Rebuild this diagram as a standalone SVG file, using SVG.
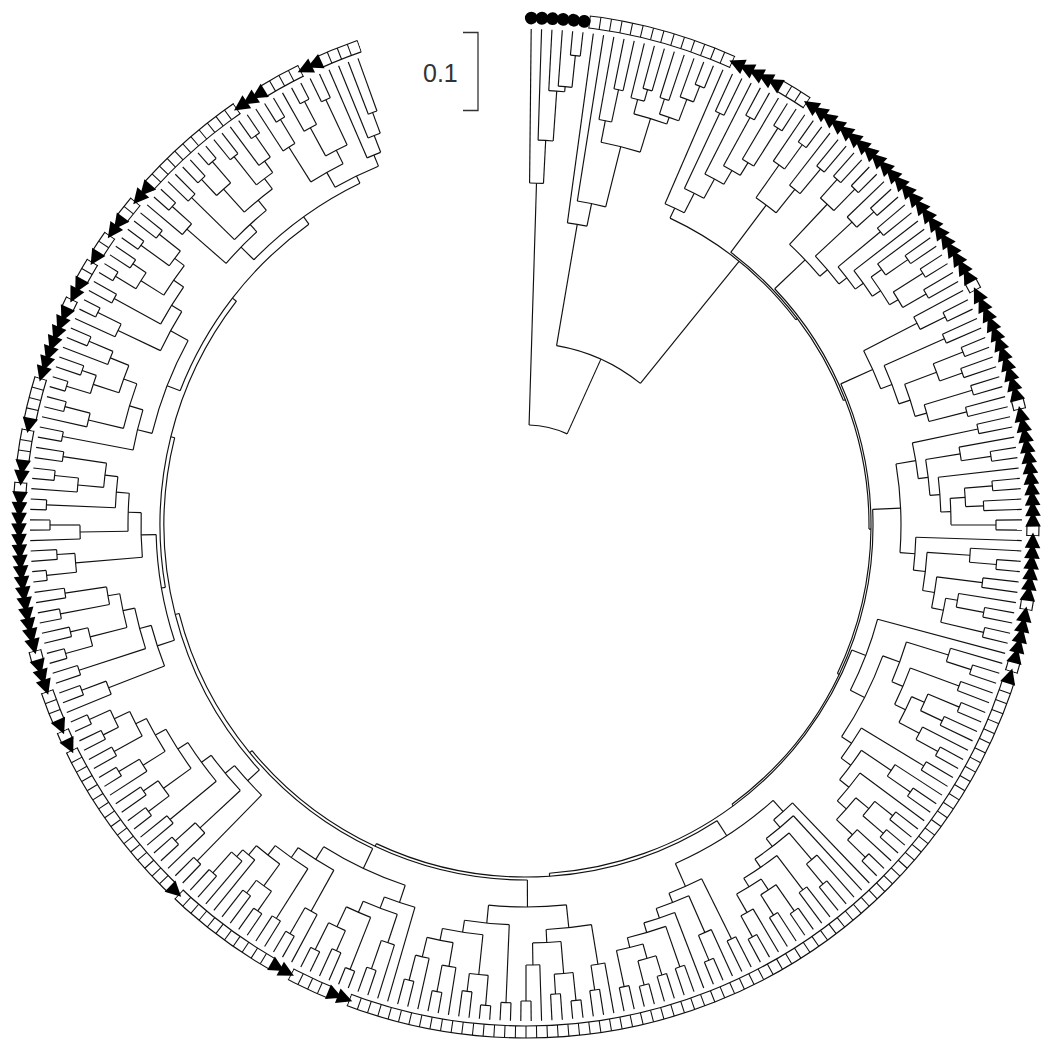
<svg xmlns="http://www.w3.org/2000/svg" xmlns:xlink="http://www.w3.org/1999/xlink" width="1044" height="1045" viewBox="0 0 1044 1045">
<style>
#branches path,#branches circle{fill:none;stroke:#111;stroke-width:1.15}
.rl{fill:none;stroke:#111;stroke-width:1.15}
.tk{fill:none;stroke:#111;stroke-width:12}
.cv{fill:none;stroke:#fff;stroke-width:15}
#tr{fill:#000}
#cm{fill:#000}
.sb{fill:none;stroke:#333;stroke-width:1.3}
.lbl{font-family:"Liberation Sans",Arial,sans-serif;font-size:25px;fill:#333}
</style>
<defs>
<polygon id="tr" points="-8.5,-507 7,-514.8 7,-499.2"/>
<circle id="cm" cx="0" cy="-507" r="6.4"/>
<g id="T2"><use href="#tr"/><use href="#tr" transform="rotate(1.2)"/></g>
<g id="T3"><use href="#T2"/><use href="#tr" transform="rotate(2.4)"/></g>
<g id="T5"><use href="#T3"/><use href="#T2" transform="rotate(3.6)"/></g>
<g id="T10"><use href="#T5"/><use href="#T5" transform="rotate(6)"/></g>
</defs>
<rect width="1044" height="1045" fill="#fff"/>
<g id="branches" transform="translate(526,525)">
<g id="root">
<circle r="100" pathLength="360" stroke-dasharray="22.55 999" transform="rotate(-88.24)"/>
<path d="M0-100V-342" transform="rotate(1.76)"/>
<path d="M0-100V-182" transform="rotate(24.31)"/>
<circle r="182" pathLength="360" stroke-dasharray="29.27 999" transform="rotate(-80.33)"/>
<path d="M0-182V-305" transform="rotate(9.67)"/>
<path d="M0-182V-339" transform="rotate(38.94)"/>
</g>
<g id="clade-A">
<circle r="342" pathLength="360" stroke-dasharray="2.33 999" transform="rotate(-89.4)"/>
<path d="M0-342V-496" transform="rotate(0.6)"/>
<path d="M0-342V-385" transform="rotate(2.93)"/>
<circle r="385" pathLength="360" stroke-dasharray="2.25 999" transform="rotate(-88.2)"/>
<path d="M0-385V-496" transform="rotate(1.8)"/>
<path d="M0-385V-435" transform="rotate(4.05)"/>
<circle r="435" pathLength="360" stroke-dasharray="2.1 999" transform="rotate(-87)"/>
<path d="M0-435V-496" transform="rotate(3)"/>
<path d="M0-435V-440" transform="rotate(5.1)"/>
<circle r="440" pathLength="360" stroke-dasharray="1.8 999" transform="rotate(-85.8)"/>
<path d="M0-440V-496" transform="rotate(4.2)"/>
<path d="M0-440V-472" transform="rotate(6)"/>
<circle r="472" pathLength="360" stroke-dasharray="1.2 999" transform="rotate(-84.6)"/>
<path d="M0-472V-496" transform="rotate(5.4)"/>
<path d="M0-472V-496" transform="rotate(6.6)"/>
</g>
<g id="clade-B">
<circle r="305" pathLength="360" stroke-dasharray="3.73 999" transform="rotate(-82.2)"/>
<path d="M0-305V-496" transform="rotate(7.8)"/>
<path d="M0-305V-328" transform="rotate(11.53)"/>
<circle r="328" pathLength="360" stroke-dasharray="5.06 999" transform="rotate(-81)"/>
<path d="M0-328V-496" transform="rotate(9)"/>
<path d="M0-328V-390" transform="rotate(14.06)"/>
<circle r="390" pathLength="360" stroke-dasharray="5.93 999" transform="rotate(-78.9)"/>
<path d="M0-390V-412" transform="rotate(11.1)"/>
<path d="M0-390V-425" transform="rotate(17.03)"/>
<circle r="412" pathLength="360" stroke-dasharray="1.8 999" transform="rotate(-79.8)"/>
<path d="M0-412V-496" transform="rotate(10.2)"/>
<path d="M0-412V-445" transform="rotate(12)"/>
<circle r="445" pathLength="360" stroke-dasharray="1.2 999" transform="rotate(-78.6)"/>
<path d="M0-445V-496" transform="rotate(11.4)"/>
<path d="M0-445V-496" transform="rotate(12.6)"/>
<circle r="425" pathLength="360" stroke-dasharray="4.65 999" transform="rotate(-75.3)"/>
<path d="M0-425V-440" transform="rotate(14.7)"/>
<path d="M0-425V-432" transform="rotate(19.35)"/>
<circle r="440" pathLength="360" stroke-dasharray="1.8 999" transform="rotate(-76.2)"/>
<path d="M0-440V-496" transform="rotate(13.8)"/>
<path d="M0-440V-452" transform="rotate(15.6)"/>
<circle r="452" pathLength="360" stroke-dasharray="1.2 999" transform="rotate(-75)"/>
<path d="M0-452V-496" transform="rotate(15)"/>
<path d="M0-452V-496" transform="rotate(16.2)"/>
<circle r="432" pathLength="360" stroke-dasharray="2.7 999" transform="rotate(-72)"/>
<path d="M0-432V-448" transform="rotate(18)"/>
<path d="M0-432V-455" transform="rotate(20.7)"/>
<circle r="448" pathLength="360" stroke-dasharray="1.2 999" transform="rotate(-72.6)"/>
<path d="M0-448V-496" transform="rotate(17.4)"/>
<path d="M0-448V-496" transform="rotate(18.6)"/>
<circle r="455" pathLength="360" stroke-dasharray="1.8 999" transform="rotate(-70.2)"/>
<path d="M0-455V-496" transform="rotate(19.8)"/>
<path d="M0-455V-472" transform="rotate(21.6)"/>
<circle r="472" pathLength="360" stroke-dasharray="1.2 999" transform="rotate(-69)"/>
<path d="M0-472V-496" transform="rotate(21)"/>
<path d="M0-472V-496" transform="rotate(22.2)"/>
</g>
<g id="backbone-C">
<circle r="339" pathLength="360" stroke-dasharray="27.6 999" transform="rotate(-64.86)"/>
<path d="M0-339V-350" transform="rotate(25.14)"/>
<path d="M0-339V-341" transform="rotate(52.74)"/>
<circle r="341" pathLength="360" stroke-dasharray="31.68 999" transform="rotate(-53.1)"/>
<path d="M0-341V-400" transform="rotate(36.9)"/>
<path d="M0-341V-343" transform="rotate(68.58)"/>
<circle r="343" pathLength="360" stroke-dasharray="44.21 999" transform="rotate(-43.53)"/>
<path d="M0-343V-385" transform="rotate(46.47)"/>
<path d="M0-343V-345" transform="rotate(90.68)"/>
<circle r="345" pathLength="360" stroke-dasharray="49.65 999" transform="rotate(-24.15)"/>
<path d="M0-345V-380" transform="rotate(65.85)"/>
<path d="M0-345V-347" transform="rotate(115.5)"/>
<circle r="347" pathLength="360" stroke-dasharray="56.16 999" transform="rotate(-2.58)"/>
<path d="M0-347V-375" transform="rotate(87.42)"/>
<path d="M0-347V-349" transform="rotate(143.58)"/>
<circle r="349" pathLength="360" stroke-dasharray="65.15 999" transform="rotate(21)"/>
<path d="M0-349V-364" transform="rotate(111)"/>
<path d="M0-349V-352" transform="rotate(176.15)"/>
<circle r="352" pathLength="360" stroke-dasharray="58.01 999" transform="rotate(57.14)"/>
<path d="M0-352V-370" transform="rotate(147.14)"/>
<path d="M0-352V-355" transform="rotate(205.15)"/>
<circle r="355" pathLength="360" stroke-dasharray="50.74 999" transform="rotate(89.78)"/>
<path d="M0-355V-382" transform="rotate(179.78)"/>
<path d="M0-355V-358" transform="rotate(230.52)"/>
<circle r="358" pathLength="360" stroke-dasharray="50.34 999" transform="rotate(115.35)"/>
<path d="M0-358V-380" transform="rotate(205.35)"/>
<path d="M0-358V-362" transform="rotate(255.69)"/>
<circle r="362" pathLength="360" stroke-dasharray="56.52 999" transform="rotate(137.43)"/>
<path d="M0-362V-378" transform="rotate(227.43)"/>
<path d="M0-362V-366" transform="rotate(283.95)"/>
<circle r="366" pathLength="360" stroke-dasharray="47.51 999" transform="rotate(170.19)"/>
<path d="M0-366V-370" transform="rotate(260.19)"/>
<path d="M0-366V-371" transform="rotate(307.7)"/>
<circle r="371" pathLength="360" stroke-dasharray="32.97 999" transform="rotate(201.21)"/>
<path d="M0-371V-385" transform="rotate(291.21)"/>
<path d="M0-371V-380" transform="rotate(324.18)"/>
</g>
<g id="clade-K1">
<circle r="350" pathLength="360" stroke-dasharray="3.49 999" transform="rotate(-66.6)"/>
<path d="M0-350V-496" transform="rotate(23.4)"/>
<path d="M0-350V-372" transform="rotate(26.89)"/>
<circle r="372" pathLength="360" stroke-dasharray="3.38 999" transform="rotate(-64.8)"/>
<path d="M0-372V-455" transform="rotate(25.2)"/>
<path d="M0-372V-394" transform="rotate(28.58)"/>
<circle r="455" pathLength="360" stroke-dasharray="1.2 999" transform="rotate(-65.4)"/>
<path d="M0-455V-496" transform="rotate(24.6)"/>
<path d="M0-455V-496" transform="rotate(25.8)"/>
<circle r="394" pathLength="360" stroke-dasharray="3.15 999" transform="rotate(-63)"/>
<path d="M0-394V-496" transform="rotate(27)"/>
<path d="M0-394V-410" transform="rotate(30.15)"/>
<circle r="410" pathLength="360" stroke-dasharray="2.7 999" transform="rotate(-61.2)"/>
<path d="M0-410V-465" transform="rotate(28.8)"/>
<path d="M0-410V-425" transform="rotate(31.5)"/>
<circle r="465" pathLength="360" stroke-dasharray="1.2 999" transform="rotate(-61.8)"/>
<path d="M0-465V-496" transform="rotate(28.2)"/>
<path d="M0-465V-496" transform="rotate(29.4)"/>
<circle r="425" pathLength="360" stroke-dasharray="1.8 999" transform="rotate(-59.4)"/>
<path d="M0-425V-496" transform="rotate(30.6)"/>
<path d="M0-425V-470" transform="rotate(32.4)"/>
<circle r="470" pathLength="360" stroke-dasharray="1.2 999" transform="rotate(-58.2)"/>
<path d="M0-470V-496" transform="rotate(31.8)"/>
<path d="M0-470V-496" transform="rotate(33)"/>
</g>
<g id="clade-K2">
<circle r="400" pathLength="360" stroke-dasharray="3.6 999" transform="rotate(-54.9)"/>
<path d="M0-400V-440" transform="rotate(35.1)"/>
<path d="M0-400V-430" transform="rotate(38.7)"/>
<circle r="440" pathLength="360" stroke-dasharray="1.8 999" transform="rotate(-55.8)"/>
<path d="M0-440V-496" transform="rotate(34.2)"/>
<path d="M0-440V-470" transform="rotate(36)"/>
<circle r="470" pathLength="360" stroke-dasharray="1.2 999" transform="rotate(-54.6)"/>
<path d="M0-470V-496" transform="rotate(35.4)"/>
<path d="M0-470V-496" transform="rotate(36.6)"/>
<circle r="430" pathLength="360" stroke-dasharray="1.8 999" transform="rotate(-52.2)"/>
<path d="M0-430V-496" transform="rotate(37.8)"/>
<path d="M0-430V-462" transform="rotate(39.6)"/>
<circle r="462" pathLength="360" stroke-dasharray="1.2 999" transform="rotate(-51)"/>
<path d="M0-462V-496" transform="rotate(39)"/>
<path d="M0-462V-496" transform="rotate(40.2)"/>
</g>
<g id="clade-K3">
<circle r="385" pathLength="360" stroke-dasharray="6.54 999" transform="rotate(-46.8)"/>
<path d="M0-385V-440" transform="rotate(43.2)"/>
<path d="M0-385V-395" transform="rotate(49.74)"/>
<circle r="440" pathLength="360" stroke-dasharray="2.4 999" transform="rotate(-48)"/>
<path d="M0-440V-465" transform="rotate(42)"/>
<path d="M0-440V-470" transform="rotate(44.4)"/>
<circle r="465" pathLength="360" stroke-dasharray="1.2 999" transform="rotate(-48.6)"/>
<path d="M0-465V-496" transform="rotate(41.4)"/>
<path d="M0-465V-496" transform="rotate(42.6)"/>
<circle r="470" pathLength="360" stroke-dasharray="1.2 999" transform="rotate(-46.2)"/>
<path d="M0-470V-496" transform="rotate(43.8)"/>
<path d="M0-470V-496" transform="rotate(45)"/>
<circle r="395" pathLength="360" stroke-dasharray="5.29 999" transform="rotate(-42.9)"/>
<path d="M0-395V-445" transform="rotate(47.1)"/>
<path d="M0-395V-405" transform="rotate(52.39)"/>
<circle r="445" pathLength="360" stroke-dasharray="1.8 999" transform="rotate(-43.8)"/>
<path d="M0-445V-496" transform="rotate(46.2)"/>
<path d="M0-445V-468" transform="rotate(48)"/>
<circle r="468" pathLength="360" stroke-dasharray="1.2 999" transform="rotate(-42.6)"/>
<path d="M0-468V-496" transform="rotate(47.4)"/>
<path d="M0-468V-496" transform="rotate(48.6)"/>
<circle r="405" pathLength="360" stroke-dasharray="3.98 999" transform="rotate(-39.6)"/>
<path d="M0-405V-460" transform="rotate(50.4)"/>
<path d="M0-405V-415" transform="rotate(54.38)"/>
<circle r="460" pathLength="360" stroke-dasharray="1.2 999" transform="rotate(-40.2)"/>
<path d="M0-460V-496" transform="rotate(49.8)"/>
<path d="M0-460V-496" transform="rotate(51)"/>
<circle r="415" pathLength="360" stroke-dasharray="4.35 999" transform="rotate(-37.8)"/>
<path d="M0-415V-496" transform="rotate(52.2)"/>
<path d="M0-415V-425" transform="rotate(56.55)"/>
<circle r="425" pathLength="360" stroke-dasharray="4.5 999" transform="rotate(-35.7)"/>
<path d="M0-425V-438" transform="rotate(54.3)"/>
<path d="M0-425V-435" transform="rotate(58.8)"/>
<circle r="438" pathLength="360" stroke-dasharray="1.8 999" transform="rotate(-36.6)"/>
<path d="M0-438V-496" transform="rotate(53.4)"/>
<path d="M0-438V-465" transform="rotate(55.2)"/>
<circle r="465" pathLength="360" stroke-dasharray="1.2 999" transform="rotate(-35.4)"/>
<path d="M0-465V-496" transform="rotate(54.6)"/>
<path d="M0-465V-496" transform="rotate(55.8)"/>
<circle r="435" pathLength="360" stroke-dasharray="2.4 999" transform="rotate(-32.4)"/>
<path d="M0-435V-470" transform="rotate(57.6)"/>
<path d="M0-435V-462" transform="rotate(60)"/>
<circle r="470" pathLength="360" stroke-dasharray="1.2 999" transform="rotate(-33)"/>
<path d="M0-470V-496" transform="rotate(57)"/>
<path d="M0-470V-496" transform="rotate(58.2)"/>
<circle r="462" pathLength="360" stroke-dasharray="1.2 999" transform="rotate(-30.6)"/>
<path d="M0-462V-496" transform="rotate(59.4)"/>
<path d="M0-462V-496" transform="rotate(60.6)"/>
</g>
<g id="clade-K4">
<circle r="380" pathLength="360" stroke-dasharray="6.3 999" transform="rotate(-27.3)"/>
<path d="M0-380V-440" transform="rotate(62.7)"/>
<path d="M0-380V-392" transform="rotate(69)"/>
<circle r="440" pathLength="360" stroke-dasharray="1.8 999" transform="rotate(-28.2)"/>
<path d="M0-440V-496" transform="rotate(61.8)"/>
<path d="M0-440V-468" transform="rotate(63.6)"/>
<circle r="468" pathLength="360" stroke-dasharray="1.2 999" transform="rotate(-27)"/>
<path d="M0-468V-496" transform="rotate(63)"/>
<path d="M0-468V-496" transform="rotate(64.2)"/>
<circle r="392" pathLength="360" stroke-dasharray="6 999" transform="rotate(-24)"/>
<path d="M0-392V-458" transform="rotate(66)"/>
<path d="M0-392V-404" transform="rotate(72)"/>
<circle r="458" pathLength="360" stroke-dasharray="1.2 999" transform="rotate(-24.6)"/>
<path d="M0-458V-496" transform="rotate(65.4)"/>
<path d="M0-458V-496" transform="rotate(66.6)"/>
<circle r="404" pathLength="360" stroke-dasharray="4.8 999" transform="rotate(-20.4)"/>
<path d="M0-404V-438" transform="rotate(69.6)"/>
<path d="M0-404V-416" transform="rotate(74.4)"/>
<circle r="438" pathLength="360" stroke-dasharray="2.4 999" transform="rotate(-21.6)"/>
<path d="M0-438V-470" transform="rotate(68.4)"/>
<path d="M0-438V-462" transform="rotate(70.8)"/>
<circle r="470" pathLength="360" stroke-dasharray="1.2 999" transform="rotate(-22.2)"/>
<path d="M0-470V-496" transform="rotate(67.8)"/>
<path d="M0-470V-496" transform="rotate(69)"/>
<circle r="462" pathLength="360" stroke-dasharray="1.2 999" transform="rotate(-19.8)"/>
<path d="M0-462V-496" transform="rotate(70.2)"/>
<path d="M0-462V-496" transform="rotate(71.4)"/>
<circle r="416" pathLength="360" stroke-dasharray="2.4 999" transform="rotate(-16.8)"/>
<path d="M0-416V-466" transform="rotate(73.2)"/>
<path d="M0-416V-455" transform="rotate(75.6)"/>
<circle r="466" pathLength="360" stroke-dasharray="1.2 999" transform="rotate(-17.4)"/>
<path d="M0-466V-496" transform="rotate(72.6)"/>
<path d="M0-466V-496" transform="rotate(73.8)"/>
<circle r="455" pathLength="360" stroke-dasharray="1.2 999" transform="rotate(-15)"/>
<path d="M0-455V-496" transform="rotate(75)"/>
<path d="M0-455V-496" transform="rotate(76.2)"/>
</g>
<g id="clade-K5">
<circle r="375" pathLength="360" stroke-dasharray="13.6 999" transform="rotate(-9.38)"/>
<path d="M0-375V-395" transform="rotate(80.63)"/>
<path d="M0-375V-390" transform="rotate(94.22)"/>
<circle r="395" pathLength="360" stroke-dasharray="5.25 999" transform="rotate(-12)"/>
<path d="M0-395V-462" transform="rotate(78)"/>
<path d="M0-395V-405" transform="rotate(83.25)"/>
<circle r="462" pathLength="360" stroke-dasharray="1.2 999" transform="rotate(-12.6)"/>
<path d="M0-462V-496" transform="rotate(77.4)"/>
<path d="M0-462V-496" transform="rotate(78.6)"/>
<circle r="405" pathLength="360" stroke-dasharray="5.1 999" transform="rotate(-9.3)"/>
<path d="M0-405V-440" transform="rotate(80.7)"/>
<path d="M0-405V-415" transform="rotate(85.8)"/>
<circle r="440" pathLength="360" stroke-dasharray="1.8 999" transform="rotate(-10.2)"/>
<path d="M0-440V-496" transform="rotate(79.8)"/>
<path d="M0-440V-470" transform="rotate(81.6)"/>
<circle r="470" pathLength="360" stroke-dasharray="1.2 999" transform="rotate(-9)"/>
<path d="M0-470V-496" transform="rotate(81)"/>
<path d="M0-470V-496" transform="rotate(82.2)"/>
<circle r="415" pathLength="360" stroke-dasharray="4.8 999" transform="rotate(-6.6)"/>
<path d="M0-415V-496" transform="rotate(83.4)"/>
<path d="M0-415V-425" transform="rotate(88.2)"/>
<circle r="425" pathLength="360" stroke-dasharray="3.6 999" transform="rotate(-3.6)"/>
<path d="M0-425V-440" transform="rotate(86.4)"/>
<path d="M0-425V-470" transform="rotate(90)"/>
<circle r="440" pathLength="360" stroke-dasharray="2.4 999" transform="rotate(-4.8)"/>
<path d="M0-440V-468" transform="rotate(85.2)"/>
<path d="M0-440V-458" transform="rotate(87.6)"/>
<circle r="468" pathLength="360" stroke-dasharray="1.2 999" transform="rotate(-5.4)"/>
<path d="M0-468V-496" transform="rotate(84.6)"/>
<path d="M0-468V-496" transform="rotate(85.8)"/>
<circle r="458" pathLength="360" stroke-dasharray="1.2 999" transform="rotate(-3)"/>
<path d="M0-458V-496" transform="rotate(87)"/>
<path d="M0-458V-496" transform="rotate(88.2)"/>
<circle r="470" pathLength="360" stroke-dasharray="1.2 999" transform="rotate(-0.6)"/>
<path d="M0-470V-496" transform="rotate(89.4)"/>
<path d="M0-470V-496" transform="rotate(90.6)"/>
<circle r="390" pathLength="360" stroke-dasharray="4.84 999" transform="rotate(1.8)"/>
<path d="M0-390V-496" transform="rotate(91.8)"/>
<path d="M0-390V-402" transform="rotate(96.64)"/>
<circle r="402" pathLength="360" stroke-dasharray="5.48 999" transform="rotate(3.9)"/>
<path d="M0-402V-445" transform="rotate(93.9)"/>
<path d="M0-402V-414" transform="rotate(99.38)"/>
<circle r="445" pathLength="360" stroke-dasharray="1.8 999" transform="rotate(3)"/>
<path d="M0-445V-496" transform="rotate(93)"/>
<path d="M0-445V-472" transform="rotate(94.8)"/>
<circle r="472" pathLength="360" stroke-dasharray="1.2 999" transform="rotate(4.2)"/>
<path d="M0-472V-496" transform="rotate(94.2)"/>
<path d="M0-472V-496" transform="rotate(95.4)"/>
<circle r="414" pathLength="360" stroke-dasharray="4.35 999" transform="rotate(7.2)"/>
<path d="M0-414V-460" transform="rotate(97.2)"/>
<path d="M0-414V-426" transform="rotate(101.55)"/>
<circle r="460" pathLength="360" stroke-dasharray="1.2 999" transform="rotate(6.6)"/>
<path d="M0-460V-496" transform="rotate(96.6)"/>
<path d="M0-460V-496" transform="rotate(97.8)"/>
<circle r="426" pathLength="360" stroke-dasharray="3.3 999" transform="rotate(9.9)"/>
<path d="M0-426V-438" transform="rotate(99.9)"/>
<path d="M0-426V-470" transform="rotate(103.2)"/>
<circle r="438" pathLength="360" stroke-dasharray="1.8 999" transform="rotate(9)"/>
<path d="M0-438V-496" transform="rotate(99)"/>
<path d="M0-438V-466" transform="rotate(100.8)"/>
<circle r="466" pathLength="360" stroke-dasharray="1.2 999" transform="rotate(10.2)"/>
<path d="M0-466V-496" transform="rotate(100.2)"/>
<path d="M0-466V-496" transform="rotate(101.4)"/>
<circle r="470" pathLength="360" stroke-dasharray="1.2 999" transform="rotate(12.6)"/>
<path d="M0-470V-496" transform="rotate(102.6)"/>
<path d="M0-470V-496" transform="rotate(103.8)"/>
</g>
<g id="clade-K6">
<circle r="364" pathLength="360" stroke-dasharray="12 999" transform="rotate(15)"/>
<path d="M0-364V-496" transform="rotate(105)"/>
<path d="M0-364V-380" transform="rotate(117)"/>
<circle r="380" pathLength="360" stroke-dasharray="13.71 999" transform="rotate(20.14)"/>
<path d="M0-380V-398" transform="rotate(110.14)"/>
<path d="M0-380V-392" transform="rotate(123.85)"/>
<circle r="398" pathLength="360" stroke-dasharray="6.08 999" transform="rotate(17.1)"/>
<path d="M0-398V-442" transform="rotate(107.1)"/>
<path d="M0-398V-410" transform="rotate(113.18)"/>
<circle r="442" pathLength="360" stroke-dasharray="1.8 999" transform="rotate(16.2)"/>
<path d="M0-442V-496" transform="rotate(106.2)"/>
<path d="M0-442V-468" transform="rotate(108)"/>
<circle r="468" pathLength="360" stroke-dasharray="1.2 999" transform="rotate(17.4)"/>
<path d="M0-468V-496" transform="rotate(107.4)"/>
<path d="M0-468V-496" transform="rotate(108.6)"/>
<circle r="410" pathLength="360" stroke-dasharray="5.55 999" transform="rotate(20.4)"/>
<path d="M0-410V-462" transform="rotate(110.4)"/>
<path d="M0-410V-422" transform="rotate(115.95)"/>
<circle r="462" pathLength="360" stroke-dasharray="1.2 999" transform="rotate(19.8)"/>
<path d="M0-462V-496" transform="rotate(109.8)"/>
<path d="M0-462V-496" transform="rotate(111)"/>
<circle r="422" pathLength="360" stroke-dasharray="3.9 999" transform="rotate(24)"/>
<path d="M0-422V-436" transform="rotate(114)"/>
<path d="M0-422V-445" transform="rotate(117.9)"/>
<circle r="436" pathLength="360" stroke-dasharray="2.4 999" transform="rotate(22.8)"/>
<path d="M0-436V-470" transform="rotate(112.8)"/>
<path d="M0-436V-460" transform="rotate(115.2)"/>
<circle r="470" pathLength="360" stroke-dasharray="1.2 999" transform="rotate(22.2)"/>
<path d="M0-470V-496" transform="rotate(112.2)"/>
<path d="M0-470V-496" transform="rotate(113.4)"/>
<circle r="460" pathLength="360" stroke-dasharray="1.2 999" transform="rotate(24.6)"/>
<path d="M0-460V-496" transform="rotate(114.6)"/>
<path d="M0-460V-496" transform="rotate(115.8)"/>
<circle r="445" pathLength="360" stroke-dasharray="1.8 999" transform="rotate(27)"/>
<path d="M0-445V-496" transform="rotate(117)"/>
<path d="M0-445V-470" transform="rotate(118.8)"/>
<circle r="470" pathLength="360" stroke-dasharray="1.2 999" transform="rotate(28.2)"/>
<path d="M0-470V-496" transform="rotate(118.2)"/>
<path d="M0-470V-496" transform="rotate(119.4)"/>
<circle r="392" pathLength="360" stroke-dasharray="5.29 999" transform="rotate(31.2)"/>
<path d="M0-392V-465" transform="rotate(121.2)"/>
<path d="M0-392V-404" transform="rotate(126.49)"/>
<circle r="465" pathLength="360" stroke-dasharray="1.2 999" transform="rotate(30.6)"/>
<path d="M0-465V-496" transform="rotate(120.6)"/>
<path d="M0-465V-496" transform="rotate(121.8)"/>
<circle r="404" pathLength="360" stroke-dasharray="5.18 999" transform="rotate(33.9)"/>
<path d="M0-404V-440" transform="rotate(123.9)"/>
<path d="M0-404V-416" transform="rotate(129.08)"/>
<circle r="440" pathLength="360" stroke-dasharray="1.8 999" transform="rotate(33)"/>
<path d="M0-440V-496" transform="rotate(123)"/>
<path d="M0-440V-468" transform="rotate(124.8)"/>
<circle r="468" pathLength="360" stroke-dasharray="1.2 999" transform="rotate(34.2)"/>
<path d="M0-468V-496" transform="rotate(124.2)"/>
<path d="M0-468V-496" transform="rotate(125.4)"/>
<circle r="416" pathLength="360" stroke-dasharray="4.95 999" transform="rotate(36.6)"/>
<path d="M0-416V-496" transform="rotate(126.6)"/>
<path d="M0-416V-428" transform="rotate(131.55)"/>
<circle r="428" pathLength="360" stroke-dasharray="3.9 999" transform="rotate(39.6)"/>
<path d="M0-428V-445" transform="rotate(129.6)"/>
<path d="M0-428V-450" transform="rotate(133.5)"/>
<circle r="445" pathLength="360" stroke-dasharray="2.4 999" transform="rotate(38.4)"/>
<path d="M0-445V-468" transform="rotate(128.4)"/>
<path d="M0-445V-472" transform="rotate(130.8)"/>
<circle r="468" pathLength="360" stroke-dasharray="1.2 999" transform="rotate(37.8)"/>
<path d="M0-468V-496" transform="rotate(127.8)"/>
<path d="M0-468V-496" transform="rotate(129)"/>
<circle r="472" pathLength="360" stroke-dasharray="1.2 999" transform="rotate(40.2)"/>
<path d="M0-472V-496" transform="rotate(130.2)"/>
<path d="M0-472V-496" transform="rotate(131.4)"/>
<circle r="450" pathLength="360" stroke-dasharray="1.8 999" transform="rotate(42.6)"/>
<path d="M0-450V-496" transform="rotate(132.6)"/>
<path d="M0-450V-475" transform="rotate(134.4)"/>
<circle r="475" pathLength="360" stroke-dasharray="1.2 999" transform="rotate(43.8)"/>
<path d="M0-475V-496" transform="rotate(133.8)"/>
<path d="M0-475V-496" transform="rotate(135)"/>
</g>
<g id="clade-K7">
<circle r="370" pathLength="360" stroke-dasharray="18.1 999" transform="rotate(48.09)"/>
<path d="M0-370V-385" transform="rotate(138.09)"/>
<path d="M0-370V-395" transform="rotate(156.19)"/>
<circle r="385" pathLength="360" stroke-dasharray="3.77 999" transform="rotate(46.2)"/>
<path d="M0-385V-496" transform="rotate(136.2)"/>
<path d="M0-385V-395" transform="rotate(139.97)"/>
<circle r="395" pathLength="360" stroke-dasharray="5.14 999" transform="rotate(47.4)"/>
<path d="M0-395V-496" transform="rotate(137.4)"/>
<path d="M0-395V-405" transform="rotate(142.54)"/>
<circle r="405" pathLength="360" stroke-dasharray="6.08 999" transform="rotate(49.5)"/>
<path d="M0-405V-440" transform="rotate(139.5)"/>
<path d="M0-405V-415" transform="rotate(145.58)"/>
<circle r="440" pathLength="360" stroke-dasharray="1.8 999" transform="rotate(48.6)"/>
<path d="M0-440V-496" transform="rotate(138.6)"/>
<path d="M0-440V-466" transform="rotate(140.4)"/>
<circle r="466" pathLength="360" stroke-dasharray="1.2 999" transform="rotate(49.8)"/>
<path d="M0-466V-496" transform="rotate(139.8)"/>
<path d="M0-466V-496" transform="rotate(141)"/>
<circle r="415" pathLength="360" stroke-dasharray="5.55 999" transform="rotate(52.8)"/>
<path d="M0-415V-458" transform="rotate(142.8)"/>
<path d="M0-415V-425" transform="rotate(148.35)"/>
<circle r="458" pathLength="360" stroke-dasharray="1.2 999" transform="rotate(52.2)"/>
<path d="M0-458V-496" transform="rotate(142.2)"/>
<path d="M0-458V-496" transform="rotate(143.4)"/>
<circle r="425" pathLength="360" stroke-dasharray="3.9 999" transform="rotate(56.4)"/>
<path d="M0-425V-438" transform="rotate(146.4)"/>
<path d="M0-425V-446" transform="rotate(150.3)"/>
<circle r="438" pathLength="360" stroke-dasharray="2.4 999" transform="rotate(55.2)"/>
<path d="M0-438V-470" transform="rotate(145.2)"/>
<path d="M0-438V-462" transform="rotate(147.6)"/>
<circle r="470" pathLength="360" stroke-dasharray="1.2 999" transform="rotate(54.6)"/>
<path d="M0-470V-496" transform="rotate(144.6)"/>
<path d="M0-470V-496" transform="rotate(145.8)"/>
<circle r="462" pathLength="360" stroke-dasharray="1.2 999" transform="rotate(57)"/>
<path d="M0-462V-496" transform="rotate(147)"/>
<path d="M0-462V-496" transform="rotate(148.2)"/>
<circle r="446" pathLength="360" stroke-dasharray="1.8 999" transform="rotate(59.4)"/>
<path d="M0-446V-496" transform="rotate(149.4)"/>
<path d="M0-446V-470" transform="rotate(151.2)"/>
<circle r="470" pathLength="360" stroke-dasharray="1.2 999" transform="rotate(60.6)"/>
<path d="M0-470V-496" transform="rotate(150.6)"/>
<path d="M0-470V-496" transform="rotate(151.8)"/>
<circle r="395" pathLength="360" stroke-dasharray="5.18 999" transform="rotate(63.6)"/>
<path d="M0-395V-462" transform="rotate(153.6)"/>
<path d="M0-395V-405" transform="rotate(158.78)"/>
<circle r="462" pathLength="360" stroke-dasharray="1.2 999" transform="rotate(63)"/>
<path d="M0-462V-496" transform="rotate(153)"/>
<path d="M0-462V-496" transform="rotate(154.2)"/>
<circle r="405" pathLength="360" stroke-dasharray="4.95 999" transform="rotate(66.3)"/>
<path d="M0-405V-445" transform="rotate(156.3)"/>
<path d="M0-405V-415" transform="rotate(161.25)"/>
<circle r="445" pathLength="360" stroke-dasharray="1.8 999" transform="rotate(65.4)"/>
<path d="M0-445V-496" transform="rotate(155.4)"/>
<path d="M0-445V-472" transform="rotate(157.2)"/>
<circle r="472" pathLength="360" stroke-dasharray="1.2 999" transform="rotate(66.6)"/>
<path d="M0-472V-496" transform="rotate(156.6)"/>
<path d="M0-472V-496" transform="rotate(157.8)"/>
<circle r="415" pathLength="360" stroke-dasharray="4.5 999" transform="rotate(69)"/>
<path d="M0-415V-496" transform="rotate(159)"/>
<path d="M0-415V-425" transform="rotate(163.5)"/>
<circle r="425" pathLength="360" stroke-dasharray="5.4 999" transform="rotate(70.8)"/>
<path d="M0-425V-468" transform="rotate(160.8)"/>
<path d="M0-425V-435" transform="rotate(166.2)"/>
<circle r="468" pathLength="360" stroke-dasharray="1.2 999" transform="rotate(70.2)"/>
<path d="M0-468V-496" transform="rotate(160.2)"/>
<path d="M0-468V-496" transform="rotate(161.4)"/>
<circle r="435" pathLength="360" stroke-dasharray="3.6 999" transform="rotate(74.4)"/>
<path d="M0-435V-450" transform="rotate(164.4)"/>
<path d="M0-435V-472" transform="rotate(168)"/>
<circle r="450" pathLength="360" stroke-dasharray="2.4 999" transform="rotate(73.2)"/>
<path d="M0-450V-470" transform="rotate(163.2)"/>
<path d="M0-450V-475" transform="rotate(165.6)"/>
<circle r="470" pathLength="360" stroke-dasharray="1.2 999" transform="rotate(72.6)"/>
<path d="M0-470V-496" transform="rotate(162.6)"/>
<path d="M0-470V-496" transform="rotate(163.8)"/>
<circle r="475" pathLength="360" stroke-dasharray="1.2 999" transform="rotate(75)"/>
<path d="M0-475V-496" transform="rotate(165)"/>
<path d="M0-475V-496" transform="rotate(166.2)"/>
<circle r="472" pathLength="360" stroke-dasharray="1.2 999" transform="rotate(77.4)"/>
<path d="M0-472V-496" transform="rotate(167.4)"/>
<path d="M0-472V-496" transform="rotate(168.6)"/>
</g>
<g id="clade-K8">
<circle r="382" pathLength="360" stroke-dasharray="11.7 999" transform="rotate(83.93)"/>
<path d="M0-382V-405" transform="rotate(173.93)"/>
<path d="M0-382V-400" transform="rotate(185.63)"/>
<circle r="405" pathLength="360" stroke-dasharray="6.45 999" transform="rotate(80.7)"/>
<path d="M0-405V-445" transform="rotate(170.7)"/>
<path d="M0-405V-418" transform="rotate(177.15)"/>
<circle r="445" pathLength="360" stroke-dasharray="1.8 999" transform="rotate(79.8)"/>
<path d="M0-445V-496" transform="rotate(169.8)"/>
<path d="M0-445V-470" transform="rotate(171.6)"/>
<circle r="470" pathLength="360" stroke-dasharray="1.2 999" transform="rotate(81)"/>
<path d="M0-470V-496" transform="rotate(171)"/>
<path d="M0-470V-496" transform="rotate(172.2)"/>
<circle r="418" pathLength="360" stroke-dasharray="3.9 999" transform="rotate(85.2)"/>
<path d="M0-418V-450" transform="rotate(175.2)"/>
<path d="M0-418V-440" transform="rotate(179.1)"/>
<circle r="450" pathLength="360" stroke-dasharray="2.4 999" transform="rotate(84)"/>
<path d="M0-450V-478" transform="rotate(174)"/>
<path d="M0-450V-470" transform="rotate(176.4)"/>
<circle r="478" pathLength="360" stroke-dasharray="1.2 999" transform="rotate(83.4)"/>
<path d="M0-478V-496" transform="rotate(173.4)"/>
<path d="M0-478V-496" transform="rotate(174.6)"/>
<circle r="470" pathLength="360" stroke-dasharray="1.2 999" transform="rotate(85.8)"/>
<path d="M0-470V-496" transform="rotate(175.8)"/>
<path d="M0-470V-496" transform="rotate(177)"/>
<circle r="440" pathLength="360" stroke-dasharray="1.8 999" transform="rotate(88.2)"/>
<path d="M0-440V-496" transform="rotate(178.2)"/>
<path d="M0-440V-476" transform="rotate(180)"/>
<circle r="476" pathLength="360" stroke-dasharray="1.2 999" transform="rotate(89.4)"/>
<path d="M0-476V-496" transform="rotate(179.4)"/>
<path d="M0-476V-496" transform="rotate(180.6)"/>
<circle r="400" pathLength="360" stroke-dasharray="6.45 999" transform="rotate(92.4)"/>
<path d="M0-400V-478" transform="rotate(182.4)"/>
<path d="M0-400V-412" transform="rotate(188.85)"/>
<circle r="478" pathLength="360" stroke-dasharray="1.2 999" transform="rotate(91.8)"/>
<path d="M0-478V-496" transform="rotate(181.8)"/>
<path d="M0-478V-496" transform="rotate(183)"/>
<circle r="412" pathLength="360" stroke-dasharray="5.7 999" transform="rotate(96)"/>
<path d="M0-412V-452" transform="rotate(186)"/>
<path d="M0-412V-424" transform="rotate(191.7)"/>
<circle r="452" pathLength="360" stroke-dasharray="2.4 999" transform="rotate(94.8)"/>
<path d="M0-452V-482" transform="rotate(184.8)"/>
<path d="M0-452V-470" transform="rotate(187.2)"/>
<circle r="482" pathLength="360" stroke-dasharray="1.2 999" transform="rotate(94.2)"/>
<path d="M0-482V-496" transform="rotate(184.2)"/>
<path d="M0-482V-496" transform="rotate(185.4)"/>
<circle r="470" pathLength="360" stroke-dasharray="1.2 999" transform="rotate(96.6)"/>
<path d="M0-470V-496" transform="rotate(186.6)"/>
<path d="M0-470V-496" transform="rotate(187.8)"/>
<circle r="424" pathLength="360" stroke-dasharray="3.6 999" transform="rotate(99.9)"/>
<path d="M0-424V-448" transform="rotate(189.9)"/>
<path d="M0-424V-444" transform="rotate(193.5)"/>
<circle r="448" pathLength="360" stroke-dasharray="1.8 999" transform="rotate(99)"/>
<path d="M0-448V-496" transform="rotate(189)"/>
<path d="M0-448V-475" transform="rotate(190.8)"/>
<circle r="475" pathLength="360" stroke-dasharray="1.2 999" transform="rotate(100.2)"/>
<path d="M0-475V-496" transform="rotate(190.2)"/>
<path d="M0-475V-496" transform="rotate(191.4)"/>
<circle r="444" pathLength="360" stroke-dasharray="1.8 999" transform="rotate(102.6)"/>
<path d="M0-444V-496" transform="rotate(192.6)"/>
<path d="M0-444V-470" transform="rotate(194.4)"/>
<circle r="470" pathLength="360" stroke-dasharray="1.2 999" transform="rotate(103.8)"/>
<path d="M0-470V-496" transform="rotate(193.8)"/>
<path d="M0-470V-496" transform="rotate(195)"/>
</g>
<g id="clade-K9">
<circle r="380" pathLength="360" stroke-dasharray="13.63 999" transform="rotate(108.53)"/>
<path d="M0-380V-398" transform="rotate(198.53)"/>
<path d="M0-380V-395" transform="rotate(212.16)"/>
<circle r="398" pathLength="360" stroke-dasharray="4.65 999" transform="rotate(106.2)"/>
<path d="M0-398V-496" transform="rotate(196.2)"/>
<path d="M0-398V-410" transform="rotate(200.85)"/>
<circle r="410" pathLength="360" stroke-dasharray="5.1 999" transform="rotate(108.3)"/>
<path d="M0-410V-440" transform="rotate(198.3)"/>
<path d="M0-410V-422" transform="rotate(203.4)"/>
<circle r="440" pathLength="360" stroke-dasharray="1.8 999" transform="rotate(107.4)"/>
<path d="M0-440V-496" transform="rotate(197.4)"/>
<path d="M0-440V-470" transform="rotate(199.2)"/>
<circle r="470" pathLength="360" stroke-dasharray="1.2 999" transform="rotate(108.6)"/>
<path d="M0-470V-496" transform="rotate(198.6)"/>
<path d="M0-470V-496" transform="rotate(199.8)"/>
<circle r="422" pathLength="360" stroke-dasharray="3.6 999" transform="rotate(111.6)"/>
<path d="M0-422V-478" transform="rotate(201.6)"/>
<path d="M0-422V-444" transform="rotate(205.2)"/>
<circle r="478" pathLength="360" stroke-dasharray="1.2 999" transform="rotate(111)"/>
<path d="M0-478V-496" transform="rotate(201)"/>
<path d="M0-478V-496" transform="rotate(202.2)"/>
<circle r="444" pathLength="360" stroke-dasharray="2.4 999" transform="rotate(114)"/>
<path d="M0-444V-466" transform="rotate(204)"/>
<path d="M0-444V-474" transform="rotate(206.4)"/>
<circle r="466" pathLength="360" stroke-dasharray="1.2 999" transform="rotate(113.4)"/>
<path d="M0-466V-496" transform="rotate(203.4)"/>
<path d="M0-466V-496" transform="rotate(204.6)"/>
<circle r="474" pathLength="360" stroke-dasharray="1.2 999" transform="rotate(115.8)"/>
<path d="M0-474V-496" transform="rotate(205.8)"/>
<path d="M0-474V-496" transform="rotate(207)"/>
<circle r="395" pathLength="360" stroke-dasharray="6.12 999" transform="rotate(119.1)"/>
<path d="M0-395V-442" transform="rotate(209.1)"/>
<path d="M0-395V-407" transform="rotate(215.22)"/>
<circle r="442" pathLength="360" stroke-dasharray="1.8 999" transform="rotate(118.2)"/>
<path d="M0-442V-496" transform="rotate(208.2)"/>
<path d="M0-442V-472" transform="rotate(210)"/>
<circle r="472" pathLength="360" stroke-dasharray="1.2 999" transform="rotate(119.4)"/>
<path d="M0-472V-496" transform="rotate(209.4)"/>
<path d="M0-472V-496" transform="rotate(210.6)"/>
<circle r="407" pathLength="360" stroke-dasharray="5.63 999" transform="rotate(122.4)"/>
<path d="M0-407V-466" transform="rotate(212.4)"/>
<path d="M0-407V-419" transform="rotate(218.03)"/>
<circle r="466" pathLength="360" stroke-dasharray="1.2 999" transform="rotate(121.8)"/>
<path d="M0-466V-496" transform="rotate(211.8)"/>
<path d="M0-466V-496" transform="rotate(213)"/>
<circle r="419" pathLength="360" stroke-dasharray="4.05 999" transform="rotate(126)"/>
<path d="M0-419V-446" transform="rotate(216)"/>
<path d="M0-419V-431" transform="rotate(220.05)"/>
<circle r="446" pathLength="360" stroke-dasharray="2.4 999" transform="rotate(124.8)"/>
<path d="M0-446V-470" transform="rotate(214.8)"/>
<path d="M0-446V-462" transform="rotate(217.2)"/>
<circle r="470" pathLength="360" stroke-dasharray="1.2 999" transform="rotate(124.2)"/>
<path d="M0-470V-496" transform="rotate(214.2)"/>
<path d="M0-470V-496" transform="rotate(215.4)"/>
<circle r="462" pathLength="360" stroke-dasharray="1.2 999" transform="rotate(126.6)"/>
<path d="M0-462V-496" transform="rotate(216.6)"/>
<path d="M0-462V-496" transform="rotate(217.8)"/>
<circle r="431" pathLength="360" stroke-dasharray="2.1 999" transform="rotate(129)"/>
<path d="M0-431V-496" transform="rotate(219)"/>
<path d="M0-431V-440" transform="rotate(221.1)"/>
<circle r="440" pathLength="360" stroke-dasharray="1.8 999" transform="rotate(130.2)"/>
<path d="M0-440V-496" transform="rotate(220.2)"/>
<path d="M0-440V-468" transform="rotate(222)"/>
<circle r="468" pathLength="360" stroke-dasharray="1.2 999" transform="rotate(131.4)"/>
<path d="M0-468V-496" transform="rotate(221.4)"/>
<path d="M0-468V-496" transform="rotate(222.6)"/>
</g>
<g id="clade-K10">
<circle r="378" pathLength="360" stroke-dasharray="6.06 999" transform="rotate(134.4)"/>
<path d="M0-378V-470" transform="rotate(224.4)"/>
<path d="M0-378V-390" transform="rotate(230.46)"/>
<circle r="470" pathLength="360" stroke-dasharray="1.2 999" transform="rotate(133.8)"/>
<path d="M0-470V-496" transform="rotate(223.8)"/>
<path d="M0-470V-496" transform="rotate(225)"/>
<circle r="390" pathLength="360" stroke-dasharray="6.72 999" transform="rotate(137.1)"/>
<path d="M0-390V-445" transform="rotate(227.1)"/>
<path d="M0-390V-402" transform="rotate(233.82)"/>
<circle r="445" pathLength="360" stroke-dasharray="1.8 999" transform="rotate(136.2)"/>
<path d="M0-445V-496" transform="rotate(226.2)"/>
<path d="M0-445V-472" transform="rotate(228)"/>
<circle r="472" pathLength="360" stroke-dasharray="1.2 999" transform="rotate(137.4)"/>
<path d="M0-472V-496" transform="rotate(227.4)"/>
<path d="M0-472V-496" transform="rotate(228.6)"/>
<circle r="402" pathLength="360" stroke-dasharray="6.83 999" transform="rotate(140.4)"/>
<path d="M0-402V-462" transform="rotate(230.4)"/>
<path d="M0-402V-414" transform="rotate(237.23)"/>
<circle r="462" pathLength="360" stroke-dasharray="1.2 999" transform="rotate(139.8)"/>
<path d="M0-462V-496" transform="rotate(229.8)"/>
<path d="M0-462V-496" transform="rotate(231)"/>
<circle r="414" pathLength="360" stroke-dasharray="6.45 999" transform="rotate(144)"/>
<path d="M0-414V-448" transform="rotate(234)"/>
<path d="M0-414V-426" transform="rotate(240.45)"/>
<circle r="448" pathLength="360" stroke-dasharray="2.4 999" transform="rotate(142.8)"/>
<path d="M0-448V-474" transform="rotate(232.8)"/>
<path d="M0-448V-466" transform="rotate(235.2)"/>
<circle r="474" pathLength="360" stroke-dasharray="1.2 999" transform="rotate(142.2)"/>
<path d="M0-474V-496" transform="rotate(232.2)"/>
<path d="M0-474V-496" transform="rotate(233.4)"/>
<circle r="466" pathLength="360" stroke-dasharray="1.2 999" transform="rotate(144.6)"/>
<path d="M0-466V-496" transform="rotate(234.6)"/>
<path d="M0-466V-496" transform="rotate(235.8)"/>
<circle r="426" pathLength="360" stroke-dasharray="5.1 999" transform="rotate(147.9)"/>
<path d="M0-426V-452" transform="rotate(237.9)"/>
<path d="M0-426V-438" transform="rotate(243)"/>
<circle r="452" pathLength="360" stroke-dasharray="1.8 999" transform="rotate(147)"/>
<path d="M0-452V-496" transform="rotate(237)"/>
<path d="M0-452V-476" transform="rotate(238.8)"/>
<circle r="476" pathLength="360" stroke-dasharray="1.2 999" transform="rotate(148.2)"/>
<path d="M0-476V-496" transform="rotate(238.2)"/>
<path d="M0-476V-496" transform="rotate(239.4)"/>
<circle r="438" pathLength="360" stroke-dasharray="3.6 999" transform="rotate(151.2)"/>
<path d="M0-438V-470" transform="rotate(241.2)"/>
<path d="M0-438V-455" transform="rotate(244.8)"/>
<circle r="470" pathLength="360" stroke-dasharray="1.2 999" transform="rotate(150.6)"/>
<path d="M0-470V-496" transform="rotate(240.6)"/>
<path d="M0-470V-496" transform="rotate(241.8)"/>
<circle r="455" pathLength="360" stroke-dasharray="2.4 999" transform="rotate(153.6)"/>
<path d="M0-455V-472" transform="rotate(243.6)"/>
<path d="M0-455V-478" transform="rotate(246)"/>
<circle r="472" pathLength="360" stroke-dasharray="1.2 999" transform="rotate(153)"/>
<path d="M0-472V-496" transform="rotate(243)"/>
<path d="M0-472V-496" transform="rotate(244.2)"/>
<circle r="478" pathLength="360" stroke-dasharray="1.2 999" transform="rotate(155.4)"/>
<path d="M0-478V-496" transform="rotate(245.4)"/>
<path d="M0-478V-496" transform="rotate(246.6)"/>
</g>
<g id="clade-K11">
<circle r="370" pathLength="360" stroke-dasharray="16.67 999" transform="rotate(161.85)"/>
<path d="M0-370V-388" transform="rotate(251.85)"/>
<path d="M0-370V-385" transform="rotate(268.52)"/>
<circle r="388" pathLength="360" stroke-dasharray="6.3 999" transform="rotate(158.7)"/>
<path d="M0-388V-448" transform="rotate(248.7)"/>
<path d="M0-388V-400" transform="rotate(255)"/>
<circle r="448" pathLength="360" stroke-dasharray="1.8 999" transform="rotate(157.8)"/>
<path d="M0-448V-496" transform="rotate(247.8)"/>
<path d="M0-448V-474" transform="rotate(249.6)"/>
<circle r="474" pathLength="360" stroke-dasharray="1.2 999" transform="rotate(159)"/>
<path d="M0-474V-496" transform="rotate(249)"/>
<path d="M0-474V-496" transform="rotate(250.2)"/>
<circle r="400" pathLength="360" stroke-dasharray="6 999" transform="rotate(162)"/>
<path d="M0-400V-470" transform="rotate(252)"/>
<path d="M0-400V-412" transform="rotate(258)"/>
<circle r="470" pathLength="360" stroke-dasharray="1.2 999" transform="rotate(161.4)"/>
<path d="M0-470V-496" transform="rotate(251.4)"/>
<path d="M0-470V-496" transform="rotate(252.6)"/>
<circle r="412" pathLength="360" stroke-dasharray="4.8 999" transform="rotate(165.6)"/>
<path d="M0-412V-450" transform="rotate(255.6)"/>
<path d="M0-412V-424" transform="rotate(260.4)"/>
<circle r="450" pathLength="360" stroke-dasharray="2.4 999" transform="rotate(164.4)"/>
<path d="M0-450V-478" transform="rotate(254.4)"/>
<path d="M0-450V-468" transform="rotate(256.8)"/>
<circle r="478" pathLength="360" stroke-dasharray="1.2 999" transform="rotate(163.8)"/>
<path d="M0-478V-496" transform="rotate(253.8)"/>
<path d="M0-478V-496" transform="rotate(255)"/>
<circle r="468" pathLength="360" stroke-dasharray="1.2 999" transform="rotate(166.2)"/>
<path d="M0-468V-496" transform="rotate(256.2)"/>
<path d="M0-468V-496" transform="rotate(257.4)"/>
<circle r="424" pathLength="360" stroke-dasharray="2.4 999" transform="rotate(169.2)"/>
<path d="M0-424V-474" transform="rotate(259.2)"/>
<path d="M0-424V-466" transform="rotate(261.6)"/>
<circle r="474" pathLength="360" stroke-dasharray="1.2 999" transform="rotate(168.6)"/>
<path d="M0-474V-496" transform="rotate(258.6)"/>
<path d="M0-474V-496" transform="rotate(259.8)"/>
<circle r="466" pathLength="360" stroke-dasharray="1.2 999" transform="rotate(171)"/>
<path d="M0-466V-496" transform="rotate(261)"/>
<path d="M0-466V-496" transform="rotate(262.2)"/>
<circle r="385" pathLength="360" stroke-dasharray="6.64 999" transform="rotate(175.2)"/>
<path d="M0-385V-452" transform="rotate(265.2)"/>
<path d="M0-385V-398" transform="rotate(271.84)"/>
<circle r="452" pathLength="360" stroke-dasharray="2.4 999" transform="rotate(174)"/>
<path d="M0-452V-482" transform="rotate(264)"/>
<path d="M0-452V-470" transform="rotate(266.4)"/>
<circle r="482" pathLength="360" stroke-dasharray="1.2 999" transform="rotate(173.4)"/>
<path d="M0-482V-496" transform="rotate(263.4)"/>
<path d="M0-482V-496" transform="rotate(264.6)"/>
<circle r="470" pathLength="360" stroke-dasharray="1.2 999" transform="rotate(175.8)"/>
<path d="M0-470V-496" transform="rotate(265.8)"/>
<path d="M0-470V-496" transform="rotate(267)"/>
<circle r="398" pathLength="360" stroke-dasharray="5.48 999" transform="rotate(179.1)"/>
<path d="M0-398V-446" transform="rotate(269.1)"/>
<path d="M0-398V-411" transform="rotate(274.58)"/>
<circle r="446" pathLength="360" stroke-dasharray="1.8 999" transform="rotate(178.2)"/>
<path d="M0-446V-496" transform="rotate(268.2)"/>
<path d="M0-446V-476" transform="rotate(270)"/>
<circle r="476" pathLength="360" stroke-dasharray="1.2 999" transform="rotate(179.4)"/>
<path d="M0-476V-496" transform="rotate(269.4)"/>
<path d="M0-476V-496" transform="rotate(270.6)"/>
<circle r="411" pathLength="360" stroke-dasharray="4.35 999" transform="rotate(182.4)"/>
<path d="M0-411V-480" transform="rotate(272.4)"/>
<path d="M0-411V-424" transform="rotate(276.75)"/>
<circle r="480" pathLength="360" stroke-dasharray="1.2 999" transform="rotate(181.8)"/>
<path d="M0-480V-496" transform="rotate(271.8)"/>
<path d="M0-480V-496" transform="rotate(273)"/>
<circle r="424" pathLength="360" stroke-dasharray="3.3 999" transform="rotate(185.1)"/>
<path d="M0-424V-450" transform="rotate(275.1)"/>
<path d="M0-424V-468" transform="rotate(278.4)"/>
<circle r="450" pathLength="360" stroke-dasharray="1.8 999" transform="rotate(184.2)"/>
<path d="M0-450V-496" transform="rotate(274.2)"/>
<path d="M0-450V-474" transform="rotate(276)"/>
<circle r="474" pathLength="360" stroke-dasharray="1.2 999" transform="rotate(185.4)"/>
<path d="M0-474V-496" transform="rotate(275.4)"/>
<path d="M0-474V-496" transform="rotate(276.6)"/>
<circle r="468" pathLength="360" stroke-dasharray="1.2 999" transform="rotate(187.8)"/>
<path d="M0-468V-496" transform="rotate(277.8)"/>
<path d="M0-468V-496" transform="rotate(279)"/>
</g>
<g id="clade-K12">
<circle r="385" pathLength="360" stroke-dasharray="14.88 999" transform="rotate(193.77)"/>
<path d="M0-385V-400" transform="rotate(283.77)"/>
<path d="M0-385V-405" transform="rotate(298.65)"/>
<circle r="400" pathLength="360" stroke-dasharray="5.93 999" transform="rotate(190.8)"/>
<path d="M0-400V-472" transform="rotate(280.8)"/>
<path d="M0-400V-414" transform="rotate(286.73)"/>
<circle r="472" pathLength="360" stroke-dasharray="1.2 999" transform="rotate(190.2)"/>
<path d="M0-472V-496" transform="rotate(280.2)"/>
<path d="M0-472V-496" transform="rotate(281.4)"/>
<circle r="414" pathLength="360" stroke-dasharray="6.45 999" transform="rotate(193.5)"/>
<path d="M0-414V-450" transform="rotate(283.5)"/>
<path d="M0-414V-428" transform="rotate(289.95)"/>
<circle r="450" pathLength="360" stroke-dasharray="1.8 999" transform="rotate(192.6)"/>
<path d="M0-450V-496" transform="rotate(282.6)"/>
<path d="M0-450V-476" transform="rotate(284.4)"/>
<circle r="476" pathLength="360" stroke-dasharray="1.2 999" transform="rotate(193.8)"/>
<path d="M0-476V-496" transform="rotate(283.8)"/>
<path d="M0-476V-496" transform="rotate(285)"/>
<circle r="428" pathLength="360" stroke-dasharray="3.9 999" transform="rotate(198)"/>
<path d="M0-428V-455" transform="rotate(288)"/>
<path d="M0-428V-448" transform="rotate(291.9)"/>
<circle r="455" pathLength="360" stroke-dasharray="2.4 999" transform="rotate(196.8)"/>
<path d="M0-455V-480" transform="rotate(286.8)"/>
<path d="M0-455V-470" transform="rotate(289.2)"/>
<circle r="480" pathLength="360" stroke-dasharray="1.2 999" transform="rotate(196.2)"/>
<path d="M0-480V-496" transform="rotate(286.2)"/>
<path d="M0-480V-496" transform="rotate(287.4)"/>
<circle r="470" pathLength="360" stroke-dasharray="1.2 999" transform="rotate(198.6)"/>
<path d="M0-470V-496" transform="rotate(288.6)"/>
<path d="M0-470V-496" transform="rotate(289.8)"/>
<circle r="448" pathLength="360" stroke-dasharray="1.8 999" transform="rotate(201)"/>
<path d="M0-448V-496" transform="rotate(291)"/>
<path d="M0-448V-474" transform="rotate(292.8)"/>
<circle r="474" pathLength="360" stroke-dasharray="1.2 999" transform="rotate(202.2)"/>
<path d="M0-474V-496" transform="rotate(292.2)"/>
<path d="M0-474V-496" transform="rotate(293.4)"/>
<circle r="405" pathLength="360" stroke-dasharray="6.3 999" transform="rotate(205.5)"/>
<path d="M0-405V-452" transform="rotate(295.5)"/>
<path d="M0-405V-417" transform="rotate(301.8)"/>
<circle r="452" pathLength="360" stroke-dasharray="1.8 999" transform="rotate(204.6)"/>
<path d="M0-452V-496" transform="rotate(294.6)"/>
<path d="M0-452V-478" transform="rotate(296.4)"/>
<circle r="478" pathLength="360" stroke-dasharray="1.2 999" transform="rotate(205.8)"/>
<path d="M0-478V-496" transform="rotate(295.8)"/>
<path d="M0-478V-496" transform="rotate(297)"/>
<circle r="417" pathLength="360" stroke-dasharray="6 999" transform="rotate(208.8)"/>
<path d="M0-417V-470" transform="rotate(298.8)"/>
<path d="M0-417V-429" transform="rotate(304.8)"/>
<circle r="470" pathLength="360" stroke-dasharray="1.2 999" transform="rotate(208.2)"/>
<path d="M0-470V-496" transform="rotate(298.2)"/>
<path d="M0-470V-496" transform="rotate(299.4)"/>
<circle r="429" pathLength="360" stroke-dasharray="4.8 999" transform="rotate(212.4)"/>
<path d="M0-429V-456" transform="rotate(302.4)"/>
<path d="M0-429V-441" transform="rotate(307.2)"/>
<circle r="456" pathLength="360" stroke-dasharray="2.4 999" transform="rotate(211.2)"/>
<path d="M0-456V-480" transform="rotate(301.2)"/>
<path d="M0-456V-472" transform="rotate(303.6)"/>
<circle r="480" pathLength="360" stroke-dasharray="1.2 999" transform="rotate(210.6)"/>
<path d="M0-480V-496" transform="rotate(300.6)"/>
<path d="M0-480V-496" transform="rotate(301.8)"/>
<circle r="472" pathLength="360" stroke-dasharray="1.2 999" transform="rotate(213)"/>
<path d="M0-472V-496" transform="rotate(303)"/>
<path d="M0-472V-496" transform="rotate(304.2)"/>
<circle r="441" pathLength="360" stroke-dasharray="2.4 999" transform="rotate(216)"/>
<path d="M0-441V-476" transform="rotate(306)"/>
<path d="M0-441V-468" transform="rotate(308.4)"/>
<circle r="476" pathLength="360" stroke-dasharray="1.2 999" transform="rotate(215.4)"/>
<path d="M0-476V-496" transform="rotate(305.4)"/>
<path d="M0-476V-496" transform="rotate(306.6)"/>
<circle r="468" pathLength="360" stroke-dasharray="1.2 999" transform="rotate(217.8)"/>
<path d="M0-468V-496" transform="rotate(307.8)"/>
<path d="M0-468V-496" transform="rotate(309)"/>
</g>
<g id="clade-K13">
<circle r="380" pathLength="360" stroke-dasharray="19.82 999" transform="rotate(224.27)"/>
<path d="M0-380V-398" transform="rotate(314.27)"/>
<path d="M0-380V-388" transform="rotate(334.09)"/>
<circle r="398" pathLength="360" stroke-dasharray="6.34 999" transform="rotate(221.1)"/>
<path d="M0-398V-450" transform="rotate(311.1)"/>
<path d="M0-398V-408" transform="rotate(317.44)"/>
<circle r="450" pathLength="360" stroke-dasharray="1.8 999" transform="rotate(220.2)"/>
<path d="M0-450V-496" transform="rotate(310.2)"/>
<path d="M0-450V-476" transform="rotate(312)"/>
<circle r="476" pathLength="360" stroke-dasharray="1.2 999" transform="rotate(221.4)"/>
<path d="M0-476V-496" transform="rotate(311.4)"/>
<path d="M0-476V-496" transform="rotate(312.6)"/>
<circle r="408" pathLength="360" stroke-dasharray="6.08 999" transform="rotate(224.4)"/>
<path d="M0-408V-468" transform="rotate(314.4)"/>
<path d="M0-408V-421" transform="rotate(320.48)"/>
<circle r="468" pathLength="360" stroke-dasharray="1.2 999" transform="rotate(223.8)"/>
<path d="M0-468V-496" transform="rotate(313.8)"/>
<path d="M0-468V-496" transform="rotate(315)"/>
<circle r="421" pathLength="360" stroke-dasharray="4.95 999" transform="rotate(228)"/>
<path d="M0-421V-452" transform="rotate(318)"/>
<path d="M0-421V-434" transform="rotate(322.95)"/>
<circle r="452" pathLength="360" stroke-dasharray="2.4 999" transform="rotate(226.8)"/>
<path d="M0-452V-474" transform="rotate(316.8)"/>
<path d="M0-452V-480" transform="rotate(319.2)"/>
<circle r="474" pathLength="360" stroke-dasharray="1.2 999" transform="rotate(226.2)"/>
<path d="M0-474V-496" transform="rotate(316.2)"/>
<path d="M0-474V-496" transform="rotate(317.4)"/>
<circle r="480" pathLength="360" stroke-dasharray="1.2 999" transform="rotate(228.6)"/>
<path d="M0-480V-496" transform="rotate(318.6)"/>
<path d="M0-480V-496" transform="rotate(319.8)"/>
<circle r="434" pathLength="360" stroke-dasharray="2.7 999" transform="rotate(231.6)"/>
<path d="M0-434V-470" transform="rotate(321.6)"/>
<path d="M0-434V-448" transform="rotate(324.3)"/>
<circle r="470" pathLength="360" stroke-dasharray="1.2 999" transform="rotate(231)"/>
<path d="M0-470V-496" transform="rotate(321)"/>
<path d="M0-470V-496" transform="rotate(322.2)"/>
<circle r="448" pathLength="360" stroke-dasharray="1.8 999" transform="rotate(233.4)"/>
<path d="M0-448V-496" transform="rotate(323.4)"/>
<path d="M0-448V-474" transform="rotate(325.2)"/>
<circle r="474" pathLength="360" stroke-dasharray="1.2 999" transform="rotate(234.6)"/>
<path d="M0-474V-496" transform="rotate(324.6)"/>
<path d="M0-474V-496" transform="rotate(325.8)"/>
<circle r="388" pathLength="360" stroke-dasharray="7.12 999" transform="rotate(240.53)"/>
<path d="M0-388V-405" transform="rotate(330.53)"/>
<path d="M0-388V-400" transform="rotate(337.65)"/>
<circle r="405" pathLength="360" stroke-dasharray="5.25 999" transform="rotate(237.9)"/>
<path d="M0-405V-446" transform="rotate(327.9)"/>
<path d="M0-405V-420" transform="rotate(333.15)"/>
<circle r="446" pathLength="360" stroke-dasharray="1.8 999" transform="rotate(237)"/>
<path d="M0-446V-496" transform="rotate(327)"/>
<path d="M0-446V-474" transform="rotate(328.8)"/>
<circle r="474" pathLength="360" stroke-dasharray="1.2 999" transform="rotate(238.2)"/>
<path d="M0-474V-496" transform="rotate(328.2)"/>
<path d="M0-474V-496" transform="rotate(329.4)"/>
<circle r="420" pathLength="360" stroke-dasharray="3.3 999" transform="rotate(241.5)"/>
<path d="M0-420V-452" transform="rotate(331.5)"/>
<path d="M0-420V-470" transform="rotate(334.8)"/>
<circle r="452" pathLength="360" stroke-dasharray="1.8 999" transform="rotate(240.6)"/>
<path d="M0-452V-496" transform="rotate(330.6)"/>
<path d="M0-452V-478" transform="rotate(332.4)"/>
<circle r="478" pathLength="360" stroke-dasharray="1.2 999" transform="rotate(241.8)"/>
<path d="M0-478V-496" transform="rotate(331.8)"/>
<path d="M0-478V-496" transform="rotate(333)"/>
<circle r="470" pathLength="360" stroke-dasharray="1.2 999" transform="rotate(244.2)"/>
<path d="M0-470V-496" transform="rotate(334.2)"/>
<path d="M0-470V-496" transform="rotate(335.4)"/>
<circle r="400" pathLength="360" stroke-dasharray="2.1 999" transform="rotate(246.6)"/>
<path d="M0-400V-496" transform="rotate(336.6)"/>
<path d="M0-400V-418" transform="rotate(338.7)"/>
<circle r="418" pathLength="360" stroke-dasharray="1.8 999" transform="rotate(247.8)"/>
<path d="M0-418V-496" transform="rotate(337.8)"/>
<path d="M0-418V-440" transform="rotate(339.6)"/>
<circle r="440" pathLength="360" stroke-dasharray="1.2 999" transform="rotate(249)"/>
<path d="M0-440V-496" transform="rotate(339)"/>
<path d="M0-440V-496" transform="rotate(340.2)"/>
</g>
</g>
<g id="tip-markers" transform="translate(526,525)">
<circle class="rl" r="513" pathLength="360" stroke-dasharray="340.8 999" transform="rotate(-90)"/>
<circle class="rl" r="501" pathLength="360" stroke-dasharray="340.8 999" transform="rotate(-90)"/>
<circle class="tk" r="507" pathLength="360" stroke-dasharray="0.12 1.08" transform="rotate(-90.06)"/>
<g id="marker-covers">
<circle class="cv" r="507" pathLength="360" stroke-dasharray="7.64 999" transform="rotate(-90.5)"/>
<circle class="cv" r="507" pathLength="360" stroke-dasharray="5.88 999" transform="rotate(-65.94)"/>
<circle class="cv" r="507" pathLength="360" stroke-dasharray="27.48 999" transform="rotate(-56.34)"/>
<circle class="cv" r="507" pathLength="360" stroke-dasharray="13.08 999" transform="rotate(-27.54)"/>
<circle class="cv" r="507" pathLength="360" stroke-dasharray="13.08 999" transform="rotate(-13.14)"/>
<circle class="cv" r="507" pathLength="360" stroke-dasharray="7.08 999" transform="rotate(1.26)"/>
<circle class="cv" r="507" pathLength="360" stroke-dasharray="5.88 999" transform="rotate(9.66)"/>
<circle class="cv" r="507" pathLength="360" stroke-dasharray="1.08 999" transform="rotate(16.86)"/>
<circle class="cv" r="507" pathLength="360" stroke-dasharray="2.28 999" transform="rotate(110.46)"/>
<circle class="cv" r="507" pathLength="360" stroke-dasharray="2.28 999" transform="rotate(117.66)"/>
<circle class="cv" r="507" pathLength="360" stroke-dasharray="1.08 999" transform="rotate(133.26)"/>
<circle class="cv" r="507" pathLength="360" stroke-dasharray="1.08 999" transform="rotate(153.66)"/>
<circle class="cv" r="507" pathLength="360" stroke-dasharray="1.08 999" transform="rotate(156.06)"/>
<circle class="cv" r="507" pathLength="360" stroke-dasharray="3.48 999" transform="rotate(160.86)"/>
<circle class="cv" r="507" pathLength="360" stroke-dasharray="17.88 999" transform="rotate(165.66)"/>
<circle class="cv" r="507" pathLength="360" stroke-dasharray="2.28 999" transform="rotate(184.86)"/>
<circle class="cv" r="507" pathLength="360" stroke-dasharray="1.08 999" transform="rotate(190.86)"/>
<circle class="cv" r="507" pathLength="360" stroke-dasharray="8.28 999" transform="rotate(196.86)"/>
<circle class="cv" r="507" pathLength="360" stroke-dasharray="2.28 999" transform="rotate(206.46)"/>
<circle class="cv" r="507" pathLength="360" stroke-dasharray="1.08 999" transform="rotate(211.26)"/>
<circle class="cv" r="507" pathLength="360" stroke-dasharray="2.28 999" transform="rotate(214.86)"/>
<circle class="cv" r="507" pathLength="360" stroke-dasharray="2.28 999" transform="rotate(219.66)"/>
<circle class="cv" r="507" pathLength="360" stroke-dasharray="3.48 999" transform="rotate(235.26)"/>
<circle class="cv" r="507" pathLength="360" stroke-dasharray="2.28 999" transform="rotate(243.66)"/>
<circle class="cv" r="507" pathLength="360" stroke-dasharray="19.7 999" transform="rotate(250.86)"/>
</g>
<g id="circle-markers">
<use href="#cm" transform="rotate(0.6)"/>
<use href="#cm" transform="rotate(1.8)"/>
<use href="#cm" transform="rotate(3)"/>
<use href="#cm" transform="rotate(4.2)"/>
<use href="#cm" transform="rotate(5.4)"/>
<use href="#cm" transform="rotate(6.6)"/>
</g>
<g id="triangle-markers">
<use href="#T5" transform="rotate(24.6)"/>
<use href="#T10" transform="rotate(34.2)"/>
<use href="#T10" transform="rotate(46.2)"/>
<use href="#T3" transform="rotate(58.2)"/>
<use href="#T10" transform="rotate(63)"/>
<use href="#tr" transform="rotate(75)"/>
<use href="#T10" transform="rotate(77.4)"/>
<use href="#tr" transform="rotate(89.4)"/>
<use href="#T5" transform="rotate(91.8)"/>
<use href="#tr" transform="rotate(97.8)"/>
<use href="#T5" transform="rotate(100.2)"/>
<use href="#tr" transform="rotate(107.4)"/>
<use href="#T2" transform="rotate(201)"/>
<use href="#T2" transform="rotate(208.2)"/>
<use href="#tr" transform="rotate(223.8)"/>
<use href="#tr" transform="rotate(244.2)"/>
<use href="#tr" transform="rotate(246.6)"/>
<use href="#T3" transform="rotate(251.4)"/>
<use href="#T10" transform="rotate(256.2)"/>
<use href="#T5" transform="rotate(268.2)"/>
<use href="#T2" transform="rotate(275.4)"/>
<use href="#tr" transform="rotate(281.4)"/>
<use href="#T5" transform="rotate(287.4)"/>
<use href="#T2" transform="rotate(293.4)"/>
<use href="#T2" transform="rotate(297)"/>
<use href="#tr" transform="rotate(301.8)"/>
<use href="#T2" transform="rotate(305.4)"/>
<use href="#T2" transform="rotate(310.2)"/>
<use href="#T3" transform="rotate(325.8)"/>
<use href="#T2" transform="rotate(334.2)"/>
</g>
</g>
<g id="scale-bar">
<path class="sb" d="M463,32.5H478V110.5H463"/>
<text class="lbl" x="423" y="82">0.1</text>
</g>
</svg>
